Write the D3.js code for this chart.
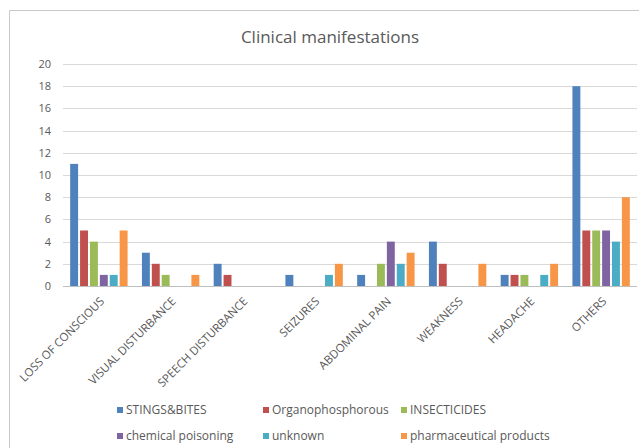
<!DOCTYPE html>
<html>
<head>
<meta charset="utf-8">
<script src="https://cdn.jsdelivr.net/npm/d3@7/dist/d3.min.js"></script>
<style>
  html, body { margin: 0; padding: 0; background: #fff; }
  svg { display: block; }
  text { font-family: "Open Sans", "DejaVu Sans", sans-serif; fill: #595959; }
</style>
</head>
<body>
<svg id="chart" width="639" height="448"></svg>
<script>
// Symptom categories shown along the x axis
const categories = [
  "LOSS OF CONSCIOUS", "VISUAL DISTURBANCE", "SPEECH DISTURBANCE", "SEIZURES",
  "ABDOMINAL PAIN", "WEAKNESS", "HEADACHE", "OTHERS"
];

// Poisoning cause series (one value per category)
const seriesNames = [
  "STINGS&BITES", "Organophosphorous", "INSECTICIDES",
  "chemical poisoning", "unknown", "pharmaceutical products"
];
const stingsBites        = [11, 3, 2, 1, 1, 4, 1, 18];
const organophosphorous  = [5, 2, 1, 0, 0, 2, 1, 5];
const insecticides       = [4, 1, 0, 0, 2, 0, 1, 5];
const chemicalPoisoning  = [1, 0, 0, 0, 4, 0, 0, 5];
const unknown            = [1, 0, 0, 1, 2, 0, 1, 4];
const pharmaceutical     = [5, 1, 0, 2, 3, 2, 2, 8];

const yTicks = [0, 2, 4, 6, 8, 10, 12, 14, 16, 18, 20];
const colors = ["#4F81BD", "#C0504D", "#9BBB59", "#8064A2", "#4BACC6", "#F79646"];

const seriesValues = [stingsBites, organophosphorous, insecticides,
                      chemicalPoisoning, unknown, pharmaceutical];

const svg = d3.select("#chart");

// Chart area frame
svg.append("path")
  .attr("d", "M9.5,448 V10.5 H639")
  .attr("fill", "none")
  .attr("stroke", "#C8C8C8")
  .attr("stroke-width", 1);

// Title
svg.append("text")
  .attr("x", 330)
  .attr("y", 43)
  .attr("text-anchor", "middle")
  .style("font-size", "17px")
  .text("Clinical manifestations");

const plot = { left: 63, right: 637, top: 64, bottom: 286 };

const x0 = d3.scaleBand()
  .domain(categories)
  .range([plot.left, plot.right])
  .padding(0);

const bw = x0.bandwidth();
const unit = bw / 7.5;           // six bars plus a 150% gap
const x1 = d3.scaleBand()
  .domain(seriesNames)
  .range([unit * 0.75, bw - unit * 0.75])
  .paddingInner(0.2);

const y = d3.scaleLinear()
  .domain([0, 20])
  .range([plot.bottom, plot.top]);

// Gridlines
svg.append("g")
  .selectAll("line")
  .data(yTicks.filter(d => d > 0))
  .join("line")
  .attr("x1", plot.left)
  .attr("x2", plot.right)
  .attr("y1", d => Math.round(y(d)) + 0.5)
  .attr("y2", d => Math.round(y(d)) + 0.5)
  .attr("stroke", "#D9D9D9")
  .attr("stroke-width", 1);

// Y axis labels
const yAxis = d3.axisLeft(y).tickValues(yTicks).tickSize(0).tickPadding(0);
const gy = svg.append("g")
  .attr("transform", `translate(51,0)`)
  .call(yAxis);
gy.select(".domain").remove();
gy.selectAll("text")
  .style("font-size", "11px")
  .attr("fill", "#595959");

// Bars
const rows = categories.map((c, i) => ({
  category: c,
  values: seriesNames.map((s, j) => ({ series: s, index: j, value: seriesValues[j][i] }))
}));

const groups = svg.append("g")
  .selectAll("g")
  .data(rows)
  .join("g")
  .attr("transform", d => `translate(${x0(d.category)},0)`);

groups.selectAll("rect")
  .data(d => d.values.filter(v => v.value > 0))
  .join("rect")
  .attr("x", d => x1(d.series))
  .attr("width", x1.bandwidth())
  .attr("y", d => y(d.value))
  .attr("height", d => y(0) - y(d.value))
  .attr("fill", d => colors[d.index]);

// X axis line
svg.append("line")
  .attr("x1", plot.left)
  .attr("x2", plot.right)
  .attr("y1", plot.bottom + 0.5)
  .attr("y2", plot.bottom + 0.5)
  .attr("stroke", "#BFBFBF")
  .attr("stroke-width", 1);

// Rotated category labels
const xAxis = d3.axisBottom(x0).tickSize(0).tickPadding(0);
const gx = svg.append("g")
  .attr("transform", `translate(0,${plot.bottom})`)
  .call(xAxis);
gx.select(".domain").remove();
gx.selectAll("text")
  .style("font-size", "11.5px")
  .attr("fill", "#595959")
  .attr("text-anchor", "end")
  .attr("dy", null)
  .attr("y", 0)
  .attr("transform", "translate(6,16) rotate(-45)");

// Legend
const legendX = [117, 263, 401];
const legendY = [410, 436];
const legend = svg.append("g")
  .selectAll("g")
  .data(seriesNames)
  .join("g")
  .attr("transform", (d, i) => `translate(${legendX[i % 3]},${legendY[Math.floor(i / 3)]})`);

legend.append("rect")
  .attr("x", 0)
  .attr("y", -3)
  .attr("width", 6)
  .attr("height", 6)
  .attr("fill", (d, i) => colors[i]);

legend.append("text")
  .attr("x", 9)
  .attr("y", 0)
  .attr("dy", "0.35em")
  .style("font-size", "12px")
  .text(d => d);
</script>
</body>
</html>
